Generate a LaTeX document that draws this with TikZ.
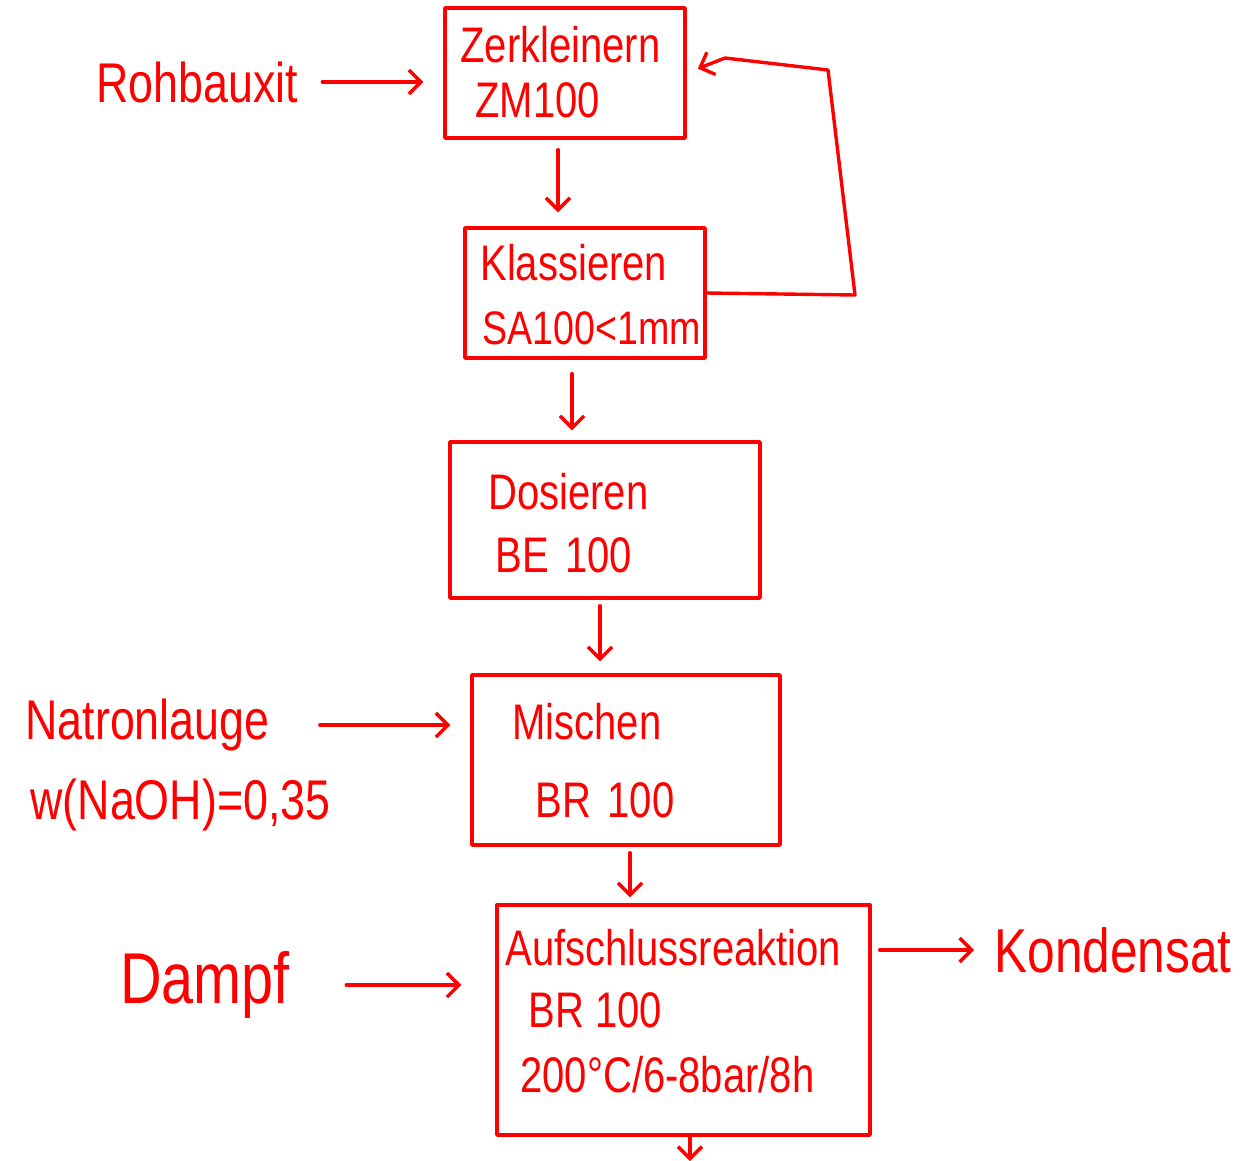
\documentclass[tikz,border=0pt]{standalone}
\usepackage{fontspec}
\newfontfamily\hand[FakeStretch=0.8]{Liberation Sans}
\usetikzlibrary{arrows.meta,fit,calc}
\begin{document}
\begin{tikzpicture}[x=0.5pt,y=-0.5pt,
  ink/.style={draw=red,line width=1.7pt,line join=round,line cap=round},
  box/.style={ink,rectangle,inner sep=0pt},
  arr/.style={ink,-{Straight Barb[length=6pt,width=12pt,line width=1.7pt]}},
  lbl/.style={text=red,inner sep=0pt,anchor=west,font=\hand\fontsize{25}{30}\selectfont},
  big/.style={text=red,inner sep=0pt,font=\hand\fontsize{28}{32}\selectfont}]
\useasboundingbox (0,0) rectangle (1253,1161);
% boxes
\node[box,fit={(445,8) (685,138)}] (b1) {};
\node[box,fit={(465,228) (705,358)}] (b2) {};
\node[box,fit={(450,442) (760,598)}] (b3) {};
\node[box,fit={(472,675) (780,845)}] (b4) {};
\node[box,fit={(497,905) (870,1135)}] (b5) {};
% box texts
\node[lbl] (t1a) at (460,45) {Zerkleinern};
\node[lbl] (t1b) at (475,100) {ZM100};
\node[lbl] (t2a) at (480,263) {Klassieren};
\node[lbl,font=\hand\fontsize{23.5}{28}\selectfont] (t2b) at (482,328) {SA100<1mm};
\node[lbl] (t3a) at (488,492) {Dosieren};
\node[lbl] (t3b) at (495,555) {BE\,\,100};
\node[lbl] (t4a) at (512,722) {Mischen};
\node[lbl] (t4b) at (535,800) {BR\,\,100};
\node[lbl] (t5a) at (505,948) {Aufschlussreaktion};
\node[lbl] (t5b) at (528,1010) {BR 100};
\node[lbl] (t5c) at (520,1075) {200°C/6-8bar/8h};
% outside labels
\node[big] (r) at (197,82) {Rohbauxit};
\node[big,anchor=west] (n1) at (25,725) {Natronlauge};
\node[big,anchor=west] (n2) at (30,805) {w(NaOH)=0,35};
\node[big,font=\hand\fontsize{36}{40}\selectfont] (d) at (205,985) {Dampf};
\node[big,font=\hand\fontsize{31}{36}\selectfont] (k) at (1113,950) {Kondensat};
\coordinate (out) at (690,1161);
% main flow
\draw[arr,shorten <=5pt,shorten >=7pt] ([xshift=-3.5pt]b1.south) -- ([xshift=-3.5pt]b1.south |- b2.north);
\draw[arr,shorten <=7pt,shorten >=5pt] ([xshift=-6.5pt]b2.south) -- ([xshift=-6.5pt]b2.south |- b3.north);
\draw[arr,shorten <=3pt,shorten >=6pt] ([xshift=-2.5pt]b3.south) -- ([xshift=-2.5pt]b3.south |- b4.north);
\draw[arr,shorten <=3pt,shorten >=3pt] ([xshift=2pt]b4.south) -- ([xshift=2pt]b4.south |- b5.north);
\draw[arr] (b5.south -| out) -- (out);
% recycle loop
\draw[arr,shorten >=6pt] (b2.east) -- (855,295) -- (828,70) -- (725,58) -- (b1.east);
% inputs / outputs
\draw[arr,shorten <=12pt,shorten >=10pt] (r.east) -- (r.east -| b1.west);
\draw[arr,shorten <=25pt,shorten >=10pt] (n1.east) -- (n1.east -| b4.west);
\draw[arr,shorten <=28pt,shorten >=17pt] (d.east) -- (d.east -| b5.west);
\draw[arr,shorten <=4pt,shorten >=10pt] (b5.east |- k.west) -- (k.west);
\end{tikzpicture}
\end{document}
